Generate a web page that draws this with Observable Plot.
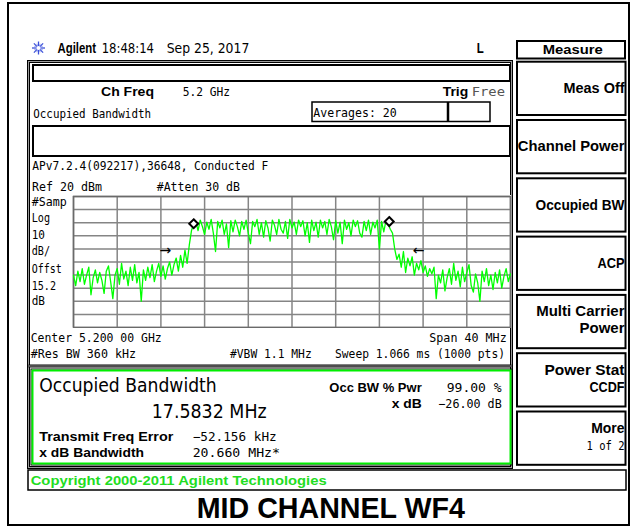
<!DOCTYPE html>
<html><head><meta charset="utf-8">
<script src="https://cdn.jsdelivr.net/npm/d3@7"></script>
<script src="https://cdn.jsdelivr.net/npm/@observablehq/plot@0.6"></script>
<style>
body{margin:0;background:#fff}
#screen{position:relative;width:636px;height:527px;overflow:hidden;background:#fff}
#trace{position:absolute;left:72px;top:195px}
</style>
</head><body><div id="screen"><div id="trace"></div></div>
<script>
// ---- data (dBm per sweep bucket, 201 buckets across the span) ----
const centerMHz = 5200, spanMHz = 40;
const lowerFloor   = [-40,-48,-37,-45,-35,-47,-40,-34,-55,-42,-36,-46,-38,-44,-54,-37,-33,-45,-58,-40,-35,-47,-31,-43,-37,-48,-34,-44,-32,-46,-38,-60];
const leftShoulder = [-36,-44,-34,-42,-32,-45,-37,-31,-41,-33,-43,-35,-30,-40,-32];
const risingEdge   = [-27,-37,-25,-34,-21,-31,-17,-6,-1];
const inBand = [1,-6,2,-3,-9,0.5,-5,2.5,-8,-22,
  1,-4,2,-9,-1,-19,1.5,-7,2,-3,
  -10,1,-5,2,-8,-16,1,-3,2.5,-9,
  0,-11,1.5,-4,-14,2,-2,-9,2.5,-5,
  -8,1,-12,2.5,-4,0.5,-9,2,-3,1.5,
  -10,0,-15,2,-6,0.5,-11,2,-4,1,
  -9,2.5,-3,-13,1.5,-8,0.5,-16,2,-5,
  0,-10,2,-3,1.5,-8,-11,1,-6,2,
  -9,0.5,-4,2,-20,1,-7,1.5];
const fallingEdge = [-1,-5,-8,-20,-28,-24,-34,-22,-38,-27,-33,-26,-40,-31,-36,-29,-38,-33,-41,-35,-39,-34];
const upperFloor  = [-58,-40,-46,-36,-52,-42,-35,-47,-31,-44,-37,-49,-34,-45,-38,-32,-48,-53,-39,-46,-60,-37,-45,-35,-48,-40,-51,-38,-46,-36,-50,-41,-35,-45,-39];
const markerMHz = [5191.0, 5208.9];
const markerDbm = [-0.8, 0.9];
const arrowMHz = [5188.4, 5211.6];
const arrowDbm = [-21.2, -21.2];
const arrowGlyph = ["→", "←"];
const freqTicks = [5180,5184,5188,5192,5196,5200,5204,5208,5212,5216,5220];
const dbmTicks = [-80,-70,-60,-50,-40,-30,-20,-10,0,10,20];
const softkeys = [["Meas Off"],["Channel Power"],["Occupied BW"],["ACP"],["Multi Carrier","Power"],["Power Stat","CCDF"],["More","1 of 2"]];

const levels = [...lowerFloor, ...leftShoulder, ...risingEdge, ...inBand, ...fallingEdge, ...upperFloor];
const startMHz = centerMHz - spanMHz / 2, stepMHz = spanMHz / (levels.length - 1);
const trace = levels.map((p, i) => ({f: startMHz + i * stepMHz, p}));
const markers = markerMHz.map((f, i) => ({f, p: markerDbm[i]}));
const arrows = arrowMHz.map((f, i) => ({f, p: arrowDbm[i], t: arrowGlyph[i]}));

// ---- instrument chrome ----
const MONO = "'DejaVu Sans Mono', monospace";
const SANS = "'Liberation Sans', Arial, sans-serif";
const DJ = "'DejaVu Sans', sans-serif";
const bg = d3.select("#screen").insert("svg", "#trace")
  .attr("width", 636).attr("height", 527)
  .style("position", "absolute").style("left", 0).style("top", 0);

function R(x, y, w, h, stroke, sw, fill = "none") {
  bg.append("rect").attr("x", x).attr("y", y).attr("width", w).attr("height", h)
    .attr("fill", fill).attr("stroke", stroke).attr("stroke-width", sw);
}
function L(x1, y1, x2, y2, stroke, sw) {
  bg.append("line").attr("x1", x1).attr("y1", y1).attr("x2", x2).attr("y2", y2)
    .attr("stroke", stroke).attr("stroke-width", sw);
}
function T(x, y, s, o = {}) {
  const t = bg.append("text").attr("x", x).attr("y", y).text(s)
    .attr("font-family", o.family || MONO).attr("font-size", o.size || 12)
    .attr("font-weight", o.bold ? "bold" : "normal").attr("fill", o.fill || "#000")
    .attr("text-anchor", o.anchor || "start");
  if (o.len) t.attr("textLength", o.len).attr("lengthAdjust", "spacingAndGlyphs");
}

// outer frame
R(8, 3, 621, 522, "#000", 2);

// header
const cx = 38.5, cy = 48;
for (let k = 0; k < 8; k++) {
  const a = k * Math.PI / 4;
  L(cx + 2 * Math.cos(a), cy + 2 * Math.sin(a), cx + 6.5 * Math.cos(a), cy + 6.5 * Math.sin(a), "#3a4fd8", 1.3);
}
for (let k = 0; k < 8; k++) {
  const a = k * Math.PI / 4 + Math.PI / 8;
  L(cx + 2 * Math.cos(a), cy + 2 * Math.sin(a), cx + 4.5 * Math.cos(a), cy + 4.5 * Math.sin(a), "#8f9cf0", 1);
}
T(57.5, 53, "Agilent", {family: SANS, size: 14, bold: true, len: 38.5});
T(101.7, 53, "18:48:14", {family: DJ, size: 14, len: 52.3});
T(166.7, 53, "Sep 25, 2017", {family: DJ, size: 14, len: 82.6});
T(476.7, 53, "L", {family: SANS, size: 14, bold: true, len: 7});

// Measure title
R(517, 41, 108, 17.5, "#000", 2);
T(542.7, 54.3, "Measure", {family: SANS, size: 13.5, bold: true, len: 60});

// softkeys
softkeys.forEach((lines, i) => {
  const top = 61.7 + 58.3 * i;
  R(517, top, 108.5, 53.3, "#000", 2);
});
const skText = [
  [["Meas Off", 93.3, 61, true]],
  [["Channel Power", 150.7, 106.7, true]],
  [["Occupied BW", 210, 89, true]],
  [["ACP", 268.3, 27, true]],
  [["Multi Carrier", 316, 88.3, true], ["Power", 332.7, 45, true]],
  [["Power Stat", 375, 80, true], ["CCDF", 391.7, 35, true]],
  [["More", 433.3, 33.3, true], ["1 of 2", 450, 38, false]]
];
softkeys.forEach((lines, i) => {
  lines.forEach((s, j) => {
    const [, y, len, bold] = skText[i][j];
    T(624.5, y, s, bold ? {family: SANS, size: 14, bold: true, anchor: "end", len}
                        : {family: MONO, size: 12.5, anchor: "end", len});
  });
});

// main panel (double border)
R(28.5, 61.5, 483, 406, "#000", 3);
R(28.5, 61.5, 483, 406, "#9a9a9a", 1);
L(28.5, 366, 511.5, 366, "#000", 3);
L(28.5, 366, 511.5, 366, "#9a9a9a", 1);

R(33, 65, 477, 16, "#000", 2);
T(101, 96, "Ch Freq", {family: SANS, size: 13, bold: true, len: 53});
T(182.7, 96, "5.2 GHz", {len: 47.3});
T(442.7, 96, "Trig", {family: SANS, size: 13, bold: true, len: 25.6});
T(471.7, 96, "Free", {len: 33.3, fill: "#555"});
T(33.3, 117.7, "Occupied Bandwidth", {len: 117.7});
R(312, 102, 178, 19.5, "#000", 1.5);
L(448, 102, 448, 121.5, "#000", 2.5);
T(313.3, 116.7, "Averages: 20", {len: 83.4});
R(33, 126, 477, 30, "#000", 2);
T(32.3, 170, "APv7.2.4(092217),36648, Conducted F", {len: 236});
T(32, 191, "Ref 20 dBm", {len: 70});
T(156.7, 191, "#Atten 30 dB", {len: 83.3});
[["#Samp", 206, 35], ["Log", 222, 18.3], ["10", 239, 13.3], ["dB/", 255, 18.3],
 ["Offst", 272.5, 30], ["15.2", 289.5, 24.3], ["dB", 305, 13.3]]
  .forEach(([s, y, len]) => T(31.7, y, s, {len}));
T(30.7, 341.5, "Center 5.200 00 GHz", {len: 131});
T(429.3, 341.5, "Span 40 MHz", {len: 77.4});
T(30.7, 358, "#Res BW 360 kHz", {len: 105.3});
T(230, 358, "#VBW 1.1 MHz", {len: 81.7});
T(335, 358, "Sweep 1.066 ms (1000 pts)", {len: 170});

// results box
R(31, 369, 481, 96, "#000", 1);
R(32.5, 370.5, 478, 93, "#00ee00", 2);
T(39.3, 392.3, "Occupied Bandwidth", {family: DJ, size: 20, len: 177.4});
T(151.7, 417.7, "17.5832 MHz", {family: DJ, size: 20, len: 115});
T(39.3, 441, "Transmit Freq Error", {family: SANS, size: 13, bold: true, len: 134});
T(192.7, 441, "−52.156 kHz", {len: 84});
T(39.3, 456.7, "x dB Bandwidth", {family: SANS, size: 13, bold: true, len: 104.7});
T(192.7, 456.7, "20.660 MHz*", {len: 87.3});
T(329.3, 391.7, "Occ BW % Pwr", {family: SANS, size: 13, bold: true, len: 92.4});
T(446.7, 391.7, "99.00 %", {len: 55});
T(391.7, 408.3, "x dB", {family: SANS, size: 13, bold: true, len: 30});
T(438.3, 408.3, "−26.00 dB", {len: 63.4});

// copyright bar and title
R(28, 470, 598, 20, "#000", 1.5);
T(30.7, 485, "Copyright 2000-2011 Agilent Technologies", {family: SANS, size: 13, bold: true, fill: "#22dd22", len: 296});
T(196.7, 518.3, "MID CHANNEL WF4", {family: SANS, size: 30, bold: true, len: 268.3});

// ---- spectrum graticule and trace with Plot ----
const chart = Plot.plot({
  width: 439, height: 133,
  marginTop: 1, marginBottom: 1, marginLeft: 1, marginRight: 1,
  x: {domain: [startMHz, startMHz + spanMHz], axis: null},
  y: {domain: [-80, 20], axis: null},
  style: {background: "#fff"},
  marks: [
    Plot.gridX(freqTicks, {stroke: "#858585", strokeOpacity: 1, strokeWidth: 1.5}),
    Plot.gridY(dbmTicks, {stroke: "#858585", strokeOpacity: 1, strokeWidth: 1.5}),
    Plot.frame({stroke: "#6a6a6a", strokeWidth: 1.5}),
    Plot.line(trace, {x: "f", y: "p", stroke: "#00ff00", strokeWidth: 1.3}),
    Plot.dot(markers, {x: "f", y: "p", symbol: "diamond2", r: 4, stroke: "#000", fill: "#fff", strokeWidth: 2}),
    Plot.text(arrows, {x: "f", y: "p", text: "t", fontSize: 14, fill: "#000", fontFamily: "DejaVu Sans"})
  ]
});
document.getElementById("trace").appendChild(chart);
</script></body></html>
